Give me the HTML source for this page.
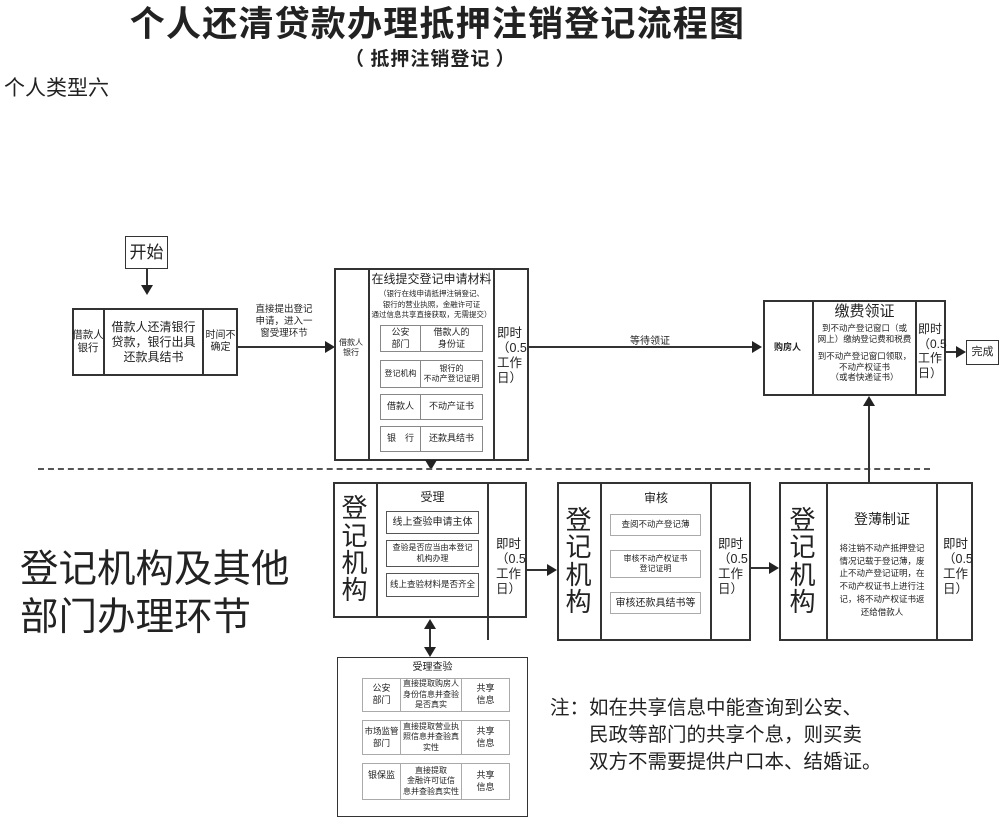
<!DOCTYPE html>
<html><head><meta charset="utf-8"><style>
*{margin:0;padding:0;box-sizing:border-box}
body{width:1000px;height:817px;background:#fff;position:relative;overflow:hidden;font-family:"Liberation Sans","Noto Sans CJK SC",sans-serif;color:#222}
.a{position:absolute}
.b{position:absolute;border:2px solid #333;background:#fff}
.c{position:absolute;display:flex;align-items:center;justify-content:center;text-align:center;line-height:1.25}
.l{position:absolute;background:#333}
.ib{position:absolute;border:1px solid #888;display:flex;font-size:9px;line-height:1.3}
.ib>div{display:flex;align-items:center;justify-content:center;text-align:center}
.t{white-space:nowrap}
</style></head><body>
<div class="a t" style="left:0;width:875px;top:-4px;text-align:center;font-size:35px;font-weight:bold;letter-spacing:1.2px;font-family:'Noto Sans CJK SC',sans-serif">个人还清贷款办理抵押注销登记流程图</div>
<div class="a t" style="left:345px;top:44px;font-size:19px;font-weight:bold;letter-spacing:1px;font-family:'Noto Sans CJK SC',sans-serif">（ 抵押注销登记 ）</div>
<div class="a t" style="left:4px;top:72px;font-size:21px">个人类型六</div>

<!-- start -->
<div class="b c" style="left:125px;top:236px;width:43px;height:33px;font-size:17px;border-width:1.5px">开始</div>
<div class="l" style="left:146px;top:269px;width:2px;height:18px"></div>
<svg class="a" style="left:141px;top:285px" width="12" height="10"><path d="M0 0L12 0L6 10Z" fill="#222"/></svg>

<!-- box1 -->
<div class="b" style="left:72px;top:308px;width:166px;height:68px"></div>
<div class="l" style="left:103px;top:308px;width:2px;height:68px"></div>
<div class="l" style="left:202px;top:308px;width:2px;height:68px"></div>
<div class="c t" style="left:72px;top:308px;width:32px;height:68px;font-size:10.5px">借款人<br>银行</div>
<div class="c t" style="left:105px;top:308px;width:97px;height:68px;font-size:12px">借款人还清银行<br>贷款，银行出具<br>还款具结书</div>
<div class="c t" style="left:204px;top:308px;width:33px;height:68px;font-size:10px">时间不<br>确定</div>
<div class="l" style="left:238px;top:346px;width:89px;height:2px"></div>
<svg class="a" style="left:325px;top:341px" width="10" height="12"><path d="M0 0L10 6L0 12Z" fill="#222"/></svg>
<div class="c t" style="left:250px;top:300px;width:68px;height:44px;font-size:9.5px">直接提出登记<br>申请，进入一<br>窗受理环节</div>

<!-- box2 -->
<div class="b" style="left:334px;top:268px;width:195px;height:193px"></div>
<div class="l" style="left:368px;top:268px;width:2px;height:193px"></div>
<div class="l" style="left:493px;top:268px;width:2px;height:193px"></div>
<div class="c t" style="left:334px;top:268px;width:34px;height:160px;font-size:8px">借款人<br>银行</div>
<div class="c t" style="left:370px;top:270px;width:123px;height:18px;font-size:12px">在线提交登记申请材料</div>
<div class="c t" style="left:370px;top:288px;width:123px;height:34px;font-size:7.5px;line-height:1.4">（银行在线申请抵押注销登记、<br>银行的营业执照，金融许可证<br>通过信息共享直接获取，无需提交）</div>
<div class="ib t" style="left:380px;top:325px;width:103px;height:27px"><div style="width:40px;border-right:1px solid #888">公安<br>部门</div><div style="flex:1">借款人的<br>身份证</div></div>
<div class="ib t" style="left:380px;top:360px;width:103px;height:28px;font-size:8px"><div style="width:40px;border-right:1px solid #888">登记机构</div><div style="flex:1">银行的<br>不动产登记证明</div></div>
<div class="ib t" style="left:380px;top:394px;width:103px;height:26px"><div style="width:40px;border-right:1px solid #888">借款人</div><div style="flex:1">不动产证书</div></div>
<div class="ib t" style="left:380px;top:426px;width:103px;height:26px"><div style="width:40px;border-right:1px solid #888">银　行</div><div style="flex:1">还款具结书</div></div>
<div class="a t" style="left:497px;top:326px;font-size:12.5px;line-height:15px">即时<br>（0.5<br>工作<br>日）</div>
<div class="l" style="left:529px;top:346px;width:225px;height:2px"></div>
<svg class="a" style="left:752px;top:341px" width="10" height="12"><path d="M0 0L10 6L0 12Z" fill="#222"/></svg>
<div class="a t" style="left:630px;top:332px;font-size:10px">等待领证</div>
<svg class="a" style="left:425px;top:460px" width="12" height="10"><path d="M0 0L12 0L6 10Z" fill="#222"/></svg>

<!-- dashed -->
<div class="a" style="left:38px;top:468px;width:892px;border-top:2px dashed #555"></div>

<!-- box3 -->
<div class="b" style="left:763px;top:300px;width:183px;height:96px"></div>
<div class="l" style="left:812px;top:300px;width:2px;height:96px"></div>
<div class="l" style="left:915px;top:300px;width:2px;height:96px"></div>
<div class="c t" style="left:763px;top:300px;width:49px;height:96px;font-size:9px;font-weight:bold">购房人</div>
<div class="c t" style="left:814px;top:302px;width:101px;height:20px;font-size:15px">缴费领证</div>
<div class="c t" style="left:814px;top:322px;width:101px;height:24px;font-size:8.5px">到不动产登记窗口（或<br>网上）缴纳登记费和税费</div>
<div class="c t" style="left:814px;top:348px;width:101px;height:38px;font-size:8.5px">到不动产登记窗口领取，<br>不动产权证书<br>（或者快递证书）</div>
<div class="a t" style="left:918px;top:322px;font-size:12px;line-height:14.5px">即时<br>（0.5<br>工作<br>日）</div>
<div class="l" style="left:946px;top:351px;width:12px;height:2px"></div>
<svg class="a" style="left:956px;top:346px" width="10" height="12"><path d="M0 0L10 6L0 12Z" fill="#222"/></svg>
<div class="b c t" style="left:966px;top:340px;width:33px;height:25px;font-size:11px;border-width:1.5px">完成</div>

<!-- box4 受理 -->
<div class="b" style="left:333px;top:482px;width:194px;height:136px"></div>
<div class="l" style="left:376px;top:482px;width:2px;height:136px"></div>
<div class="l" style="left:487px;top:482px;width:2px;height:158px"></div>
<div class="c" style="left:333px;top:482px;width:43px;height:136px;font-size:26px;line-height:1.05">登<br>记<br>机<br>构</div>
<div class="c" style="left:378px;top:487px;width:109px;height:20px;font-size:12px">受理</div>
<div class="ib t" style="left:386px;top:511px;width:93px;height:23px;border-color:#555;justify-content:center;align-items:center;font-size:10px">线上查验申请主体</div>
<div class="ib t" style="left:386px;top:540px;width:93px;height:27px;border-color:#555;justify-content:center;align-items:center;text-align:center;font-size:8px">查验是否应当由本登记<br>机构办理</div>
<div class="ib t" style="left:386px;top:573px;width:93px;height:24px;border-color:#555;justify-content:center;align-items:center;font-size:8.5px">线上查验材料是否齐全</div>
<div class="a t" style="left:496px;top:537px;font-size:12.5px;line-height:15px">即时<br>（0.5<br>工作<br>日）</div>
<div class="l" style="left:527px;top:569px;width:21px;height:2px"></div>
<svg class="a" style="left:547px;top:564px" width="10" height="12"><path d="M0 0L10 6L0 12Z" fill="#222"/></svg>
<!-- double arrow -->
<div class="l" style="left:429px;top:626px;width:2px;height:24px"></div>
<svg class="a" style="left:424px;top:619px" width="12" height="10"><path d="M0 10L12 10L6 0Z" fill="#222"/></svg>
<svg class="a" style="left:424px;top:647px" width="12" height="10"><path d="M0 0L12 0L6 10Z" fill="#222"/></svg>

<!-- box5 受理查验 -->
<div class="a" style="left:337px;top:657px;width:191px;height:160px;border:1.5px solid #333"></div>
<div class="c t" style="left:337px;top:660px;width:191px;height:16px;font-size:10px">受理查验</div>
<div class="ib t" style="left:362px;top:678px;width:148px;height:34px;border-color:#aaa;font-size:8px"><div style="width:38px;border-right:1px solid #aaa;font-size:9px">公安<br>部门</div><div style="width:61px;border-right:1px solid #aaa">直接提取购房人<br>身份信息并查验<br>是否真实</div><div style="flex:1;font-size:9px">共享<br>信息</div></div>
<div class="ib t" style="left:362px;top:720px;width:148px;height:35px;border-color:#aaa;font-size:8px"><div style="width:38px;border-right:1px solid #aaa;font-size:8.5px">市场监管<br>部门</div><div style="width:61px;border-right:1px solid #aaa">直接提取营业执<br>照信息并查验真<br>实性</div><div style="flex:1;font-size:9px">共享<br>信息</div></div>
<div class="ib t" style="left:362px;top:763px;width:148px;height:37px;border-color:#aaa;font-size:8px"><div style="width:38px;border-right:1px solid #aaa;font-size:9px;align-items:flex-start;padding-top:6px">银保监</div><div style="width:61px;border-right:1px solid #aaa">直接提取<br>金融许可证信<br>息并查验真实性</div><div style="flex:1;font-size:9px">共享<br>信息</div></div>

<!-- box6 审核 -->
<div class="b" style="left:557px;top:482px;width:194px;height:159px"></div>
<div class="l" style="left:600px;top:482px;width:2px;height:159px"></div>
<div class="l" style="left:710px;top:482px;width:2px;height:159px"></div>
<div class="c" style="left:557px;top:482px;width:43px;height:159px;font-size:26px;line-height:1.05">登<br>记<br>机<br>构</div>
<div class="c" style="left:602px;top:488px;width:108px;height:20px;font-size:12px">审核</div>
<div class="ib t" style="left:610px;top:514px;width:91px;height:22px;border-color:#aaa;justify-content:center;align-items:center;font-size:8.5px">查阅不动产登记薄</div>
<div class="ib t" style="left:610px;top:550px;width:91px;height:28px;border-color:#aaa;justify-content:center;align-items:center;text-align:center;font-size:8px">审核不动产权证书<br>登记证明</div>
<div class="ib t" style="left:610px;top:592px;width:91px;height:22px;border-color:#aaa;justify-content:center;align-items:center;font-size:10px">审核还款具结书等</div>
<div class="a t" style="left:718px;top:537px;font-size:12.5px;line-height:15px">即时<br>（0.5<br>工作<br>日）</div>
<div class="l" style="left:751px;top:567px;width:20px;height:2px"></div>
<svg class="a" style="left:769px;top:562px" width="10" height="12"><path d="M0 0L10 6L0 12Z" fill="#222"/></svg>

<!-- box7 -->
<div class="b" style="left:779px;top:482px;width:194px;height:159px"></div>
<div class="l" style="left:826px;top:482px;width:2px;height:159px"></div>
<div class="l" style="left:936px;top:482px;width:2px;height:159px"></div>
<div class="c" style="left:779px;top:482px;width:47px;height:159px;font-size:26px;line-height:1.05">登<br>记<br>机<br>构</div>
<div class="c t" style="left:828px;top:508px;width:108px;height:24px;font-size:14px">登薄制证</div>
<div class="c t" style="left:830px;top:538px;width:104px;height:84px;font-size:8.5px;line-height:1.5">将注销不动产抵押登记<br>情况记载于登记薄，废<br>止不动产登记证明，在<br>不动产权证书上进行注<br>记，将不动产权证书返<br>还给借款人</div>
<div class="a t" style="left:943px;top:537px;font-size:12.5px;line-height:15px">即时<br>（0.5<br>工作<br>日）</div>
<div class="l" style="left:868px;top:404px;width:2px;height:78px"></div>
<svg class="a" style="left:863px;top:396px" width="12" height="10"><path d="M0 10L12 10L6 0Z" fill="#222"/></svg>

<div class="a t" style="left:20px;top:546px;font-size:38.5px;line-height:48px">登记机构及其他<br>部门办理环节</div>
<div class="a t" style="left:550px;top:695px;font-size:19.5px;line-height:27px">注：如在共享信息中能查询到公安、<br>　　民政等部门的共享个息，则买卖<br>　　双方不需要提供户口本、结婚证。</div>
</body></html>
